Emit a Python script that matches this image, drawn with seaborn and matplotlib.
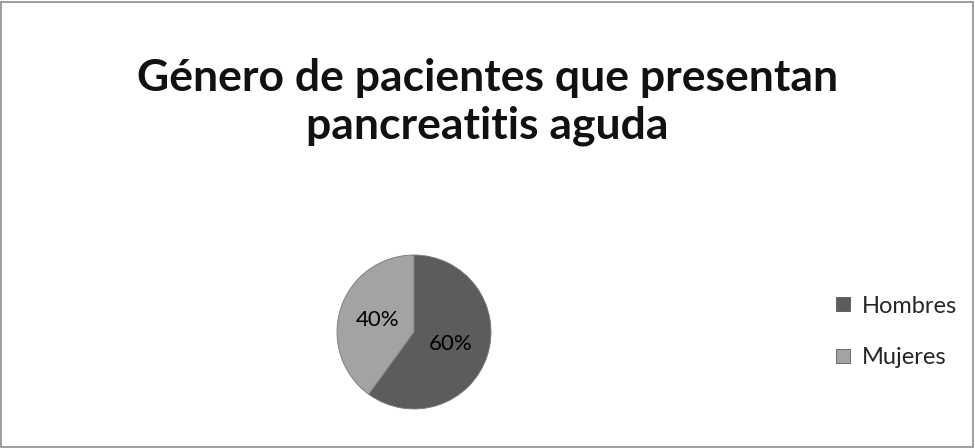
import matplotlib
matplotlib.use("Agg")
import matplotlib.pyplot as plt
import seaborn as sns
from matplotlib.patches import Rectangle
from matplotlib.lines import Line2D

categories = ["Hombres", "Mujeres"]
values = [60, 40]
colors = ["#5c5c5c", "#a3a3a3"]
title = "Género de pacientes que presentan\npancreatitis aguda"

sns.set_style("white")
plt.rcParams['font.family'] = ['Lato', 'DejaVu Sans']

W, H = 975, 448
fig = plt.figure(figsize=(W / 100, H / 100), dpi=100)
fig.patches.append(Rectangle((1 / W, 1 / H), (W - 3) / W, (H - 3) / H, transform=fig.transFigure,
                             fill=False, edgecolor="#8c8c8c", linewidth=1.2))

cx, cy, r = 414, 332, 77
ax = fig.add_axes([(cx - r) / W, (H - cy - r) / H, 2 * r / W, 2 * r / H])
wedges, texts, autotexts = ax.pie(values, colors=colors, startangle=90, counterclock=False,
                                  autopct="%1.0f%%", pctdistance=0.5,
                                  wedgeprops=dict(edgecolor="#7a7a7a", linewidth=0.6),
                                  textprops=dict(fontsize=16, color="black"))
ax.set_xlim(-1, 1)
ax.set_ylim(-1, 1)
ax.set_aspect("equal")
ax.axis("off")

fig.text(0.5, 1 - 102 / H, title, ha="center", va="center", fontsize=32, fontweight="bold",
         linespacing=1.2, color="#111111")

handles = [Line2D([], [], marker="s", linestyle="none", markersize=10, markerfacecolor=c,
                  markeredgecolor="#444444", markeredgewidth=0.5) for c in colors]
fig.legend(handles, categories, loc="center left", bbox_to_anchor=(810 / W, 1 - 332 / H),
           frameon=False, fontsize=17, handletextpad=0.3, labelspacing=1.3, handlelength=1.0)

fig.savefig("out.png", dpi=100)
